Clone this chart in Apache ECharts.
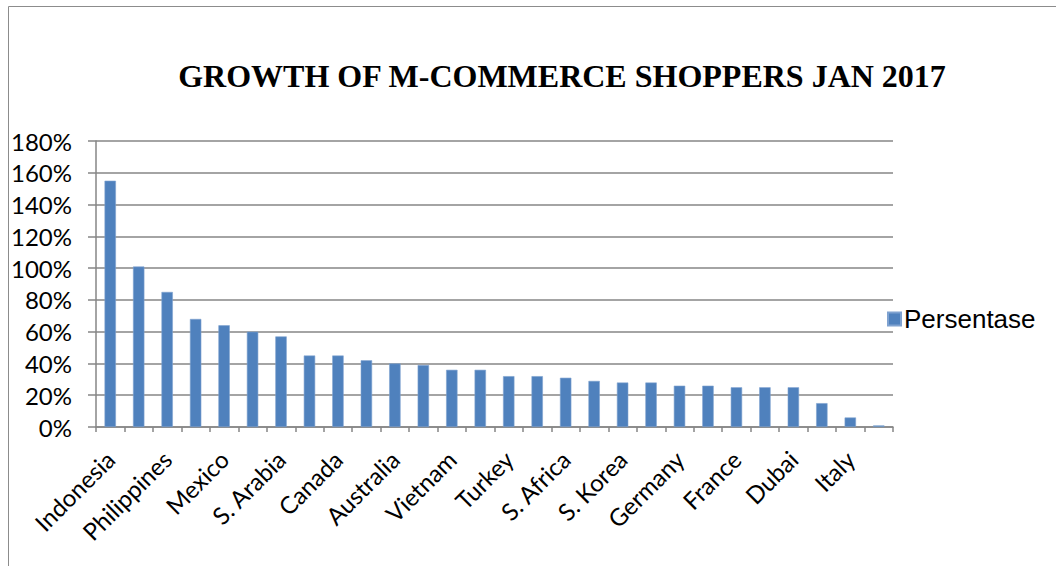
<!DOCTYPE html>
<html>
<head>
<meta charset="utf-8">
<script src="https://cdn.jsdelivr.net/npm/echarts@6/dist/echarts.min.js"></script>
<style>
  html, body { margin: 0; padding: 0; background: #fff; }
  #chart { width: 1056px; height: 566px; }
</style>
</head>
<body>
<div id="chart"></div>
<script>
const titleText = 'GROWTH OF M-COMMERCE SHOPPERS JAN 2017';
const seriesName = 'Persentase';
const categories = [
  'Indonesia', 'Thailand', 'Philippines', 'Malaysia', 'Mexico', 'India', 'S. Arabia',
  'Brazil', 'Canada', 'Argentina', 'Australia', 'Singapore', 'Vietnam', 'China',
  'Turkey', 'Poland', 'S. Africa', 'Russia', 'S. Korea', 'Hong Kong', 'Germany',
  'USA', 'France', 'UK', 'Dubai', 'Japan', 'Italy', 'Spain'
];
const values = [
  155, 101, 85, 68, 64, 60, 57,
  45, 45, 42, 40, 39, 36, 36,
  32, 32, 31, 29, 28, 28, 26,
  26, 25, 25, 25, 15, 6, 1
];
const yTicks = { min: 0, max: 180, interval: 20 };

const chart = echarts.init(document.getElementById('chart'), null, { renderer: 'svg' });
const axisGray = '#868686';
chart.setOption({
  animation: false,
  backgroundColor: '#ffffff',
  graphic: [{
    type: 'rect',
    shape: { x: 8.5, y: 6.5, width: 1100, height: 600 },
    style: { fill: 'none', stroke: '#8c8c8c', lineWidth: 1 },
    silent: true
  }],
  title: {
    text: titleText,
    left: 557,
    textAlign: 'center',
    top: 55,
    textStyle: {
      fontFamily: '"Liberation Serif", "Times New Roman", serif',
      fontWeight: 'bold',
      fontSize: 32,
      color: '#000'
    }
  },
  legend: {
    data: [seriesName],
    orient: 'vertical',
    left: 882,
    top: 301,
    icon: 'rect',
    itemWidth: 13,
    itemHeight: 13,
    itemGap: 8,
    textStyle: {
      fontFamily: '"Liberation Sans", Arial, sans-serif',
      fontSize: 26,
      color: '#000',
      padding: [0, 0, 0, -2]
    }
  },
  grid: { left: 96, right: 163, top: 141, bottom: 139, containLabel: false },
  xAxis: {
    type: 'category',
    data: categories,
    boundaryGap: true,
    axisLine: { lineStyle: { color: axisGray, width: 1.5 } },
    axisTick: { show: true, interval: 0, alignWithLabel: false, length: 5, lineStyle: { color: axisGray, width: 1.5 } },
    axisLabel: {
      interval: 1,
      rotate: 45,
      margin: 28,
      fontFamily: 'Lato, "Open Sans", sans-serif',
      fontSize: 24,
      color: '#000'
    }
  },
  yAxis: {
    type: 'value',
    min: yTicks.min,
    max: yTicks.max,
    interval: yTicks.interval,
    axisLine: { show: true, lineStyle: { color: axisGray, width: 1.5 } },
    axisTick: { show: true, length: 8, lineStyle: { color: axisGray, width: 1.5 } },
    splitLine: { show: true, lineStyle: { color: axisGray, width: 1.5 } },
    axisLabel: {
      formatter: '{value}%',
      margin: 24,
      fontFamily: 'Lato, "Open Sans", sans-serif',
      fontSize: 24,
      color: '#000'
    }
  },
  series: [{
    name: seriesName,
    type: 'bar',
    data: values,
    barWidth: '40%',
    itemStyle: { color: '#4F81BD', borderColor: '#7FA2D0', borderWidth: 0.6 }
  }]
});
</script>
</body>
</html>
